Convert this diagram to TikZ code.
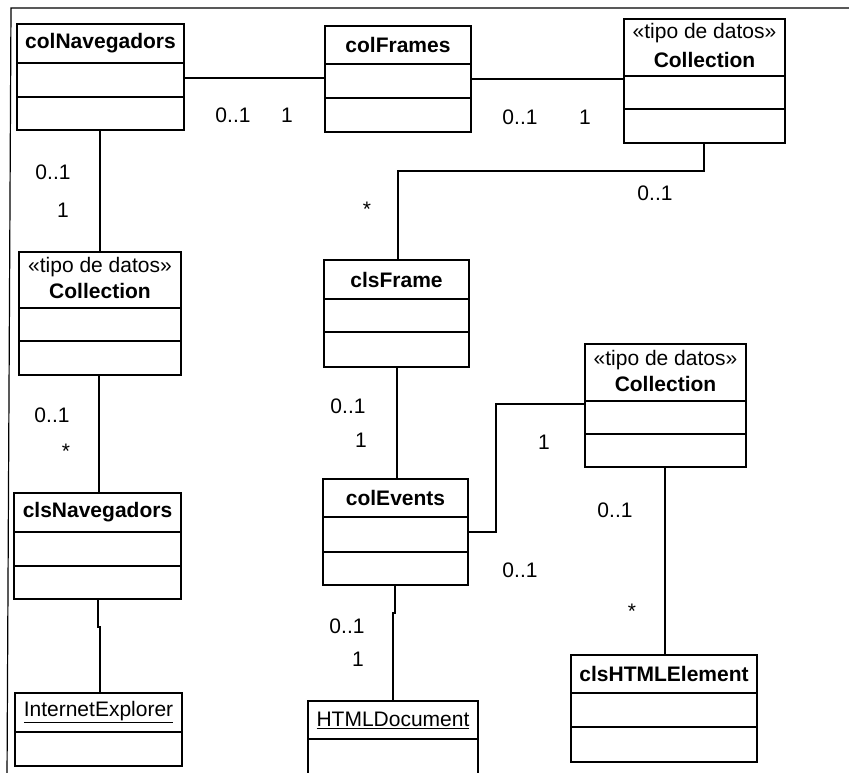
\documentclass[tikz,border=0pt]{standalone}
\usepackage{fontspec}
\setmainfont{Liberation Sans}
\usetikzlibrary{fit}

\tikzset{
  classbox/.style={draw, line width=1.8pt, inner sep=0pt, outer sep=0pt},
  compart/.style={line width=1.8pt},
  assoc/.style={line width=1.2pt},
  frameline/.style={line width=1.2pt},
  cname/.style={font=\fontsize{21}{24}\selectfont\bfseries, inner sep=0pt},
  ctext/.style={font=\fontsize{21}{24}\selectfont, inner sep=0pt},
  mult/.style={font=\fontsize{21}{24}\selectfont, inner sep=0pt, anchor=base},
}

% \umlclass{name}{left}{top}{right}{bottom}{compartment lines}
\newcommand{\umlclass}[6]{%
  \node[classbox, fit={(#2,#3) (#4,#5)}] (#1) {};
  \foreach \s in {#6} {\draw[compart] (#1.west |- 0,\s) -- (#1.east |- 0,\s);}
}

\begin{document}
\begin{tikzpicture}[x=1pt, y=-1pt]
\useasboundingbox (0,0) rectangle (849,773);
\clip (0,0) rectangle (849,773);

% outer frame (top and left edges)
\draw[frameline] (7,780) -- (11,8) -- (849,8);

% classes
\umlclass{cnav}{17}{24}{184}{130}{63,97}
\node[cname] (cnavT) at (100.5,43.5) {colNavegadors};

\umlclass{cfr}{325}{26}{471}{132}{64,98}
\node[cname] (cfrT) at (398,45) {colFrames};

\umlclass{colA}{624}{19}{785}{143}{76,109}
\node[ctext] (colAS) at (704.5,33) {«tipo de datos»};
\node[cname] (colAT) at (704.5,60) {Collection};

\umlclass{colB}{19}{252}{181}{375}{308,341}
\node[ctext] (colBS) at (100,267) {«tipo de datos»};
\node[cname] (colBT) at (100,291) {Collection};

\umlclass{cfrm}{324}{260}{469}{367}{299,332}
\node[cname] (cfrmT) at (396.5,279.5) {clsFrame};

\umlclass{colC}{585}{344}{746}{467}{401,434}
\node[ctext] (colCS) at (665.5,360) {«tipo de datos»};
\node[cname] (colCT) at (665.5,384) {Collection};

\umlclass{cnv}{14}{493}{181}{599}{532,566}
\node[cname] (cnvT) at (97.5,512.5) {clsNavegadors};

\umlclass{cev}{323}{479}{468}{585}{517,552}
\node[cname] (cevT) at (395.5,498) {colEvents};

\umlclass{chtml}{571}{655}{757}{762}{693,727}
\node[cname] (chtmlT) at (664,674) {clsHTMLElement};

\umlclass{ie}{15}{693}{182}{766}{732}
\node[ctext] (ieT) at (98.5,712) {\underline{InternetExplorer}};

\umlclass{hdoc}{308}{701}{478}{790}{739}
\node[ctext] (hdocT) at (393,720) {\underline{HTMLDocument}};

% associations
\draw[assoc] (cnav.east |- 0,78) -- (cfr.west |- 0,78);
\draw[assoc] (cfr.east |- 0,79) -- (colA.west |- 0,79);
\draw[assoc] (cnav.south -| 100,0) -- (colB.north -| 100,0);
\draw[assoc] (colB.south -| 99,0) -- (cnv.north -| 99,0);
\draw[assoc] (cnv.south -| 98,0) -- (98,627) -- (100,627) -- (ie.north -| 100,0);
\draw[assoc] (colA.south -| 704,0) -- (704,171) -- (398,171) -- (cfrm.north -| 398,0);
\draw[assoc] (cfrm.south -| 397,0) -- (cev.north -| 397,0);
\draw[assoc] (cev.east |- 0,532) -- (496,532) -- (496,404) -- (colC.west |- 0,404);
\draw[assoc] (colC.south -| 665,0) -- (chtml.north -| 665,0);
\draw[assoc] (cev.south -| 395,0) -- (395,613) -- (393,613) -- (hdoc.north -| 393,0);

% multiplicities
\node[mult] (m1) at (233,122.5) {0..1};
\node[mult] (m2) at (287,122.5) {1};
\node[mult] (m3) at (520,124.5) {0..1};
\node[mult] (m4) at (585,124.5) {1};
\node[mult] (m5) at (53,179.5) {0..1};
\node[mult] (m6) at (63,217.5) {1};
\node[mult] (m7) at (655,200.5) {0..1};
\node[mult] (m8) at (367,216.5) {*};
\node[mult] (m9) at (52,422.5) {0..1};
\node[mult] (m10) at (66,458.5) {*};
\node[mult] (m11) at (348,413.5) {0..1};
\node[mult] (m12) at (361,447.5) {1};
\node[mult] (m13) at (544,449.5) {1};
\node[mult] (m14) at (520,577.5) {0..1};
\node[mult] (m15) at (615,517.5) {0..1};
\node[mult] (m16) at (632,618.5) {*};
\node[mult] (m17) at (347,633.5) {0..1};
\node[mult] (m18) at (358,666.5) {1};
\end{tikzpicture}
\end{document}
